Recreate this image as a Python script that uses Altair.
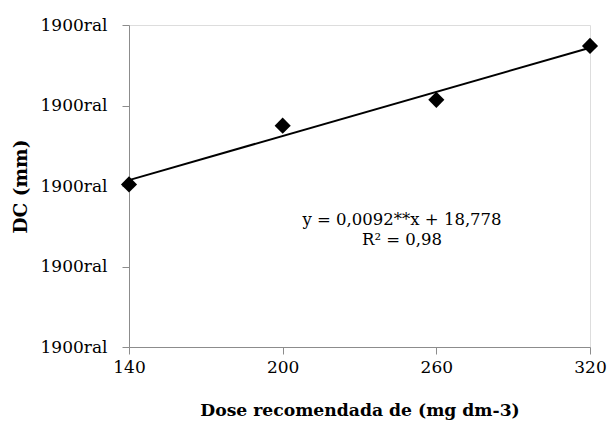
import altair as alt
import pandas as pd

dose = [140, 200, 260, 320]
dc = [20.02, 20.75, 21.07, 21.74]
y_ticks = [18, 19, 20, 21, 22]
x_ticks = [140, 200, 260, 320]
eq_lines = ["y = 0,0092**x + 18,778", "R² = 0,98"]

df = pd.DataFrame({"dose": dose, "dc": dc})
FONT = "DejaVu Serif"

x_enc = alt.X("dose:Q", scale=alt.Scale(domain=[140, 320], nice=False, zero=False),
              axis=alt.Axis(values=x_ticks, title="Dose recomendada de (mg dm-3)", grid=False,
                            domainColor="#8c8c8c", tickColor="#8c8c8c", tickSize=7, labelFlush=False,
                            labelFont=FONT, labelFontSize=17, labelColor="black", labelPadding=5,
                            titleFont=FONT, titleFontSize=17.2, titleFontWeight="bold",
                            titleColor="black", titlePadding=26))
y_enc = alt.Y("dc:Q", scale=alt.Scale(domain=[18, 22], nice=False, zero=False),
              axis=alt.Axis(values=y_ticks, labelExpr="'1900ral'", title="DC (mm)", grid=False,
                            domainColor="#8c8c8c", tickColor="#8c8c8c", tickSize=7, labelFlush=False,
                            labelFont=FONT, labelFontSize=17, labelColor="black", labelPadding=15,
                            titleFont=FONT, titleFontSize=18.5, titleFontWeight="bold",
                            titleColor="black", titlePadding=10))

base = alt.Chart(df)
points = base.mark_point(shape="diamond", filled=True, color="black", size=260, opacity=1).encode(x=x_enc, y=y_enc)
trend = base.mark_line(color="black", strokeWidth=2).encode(x=x_enc, y=y_enc).transform_regression("dose", "dc")

eq1 = alt.Chart(pd.DataFrame({"t": [eq_lines[0]]})).mark_text(
    font=FONT, fontSize=16.5, color="black", align="center", baseline="alphabetic").encode(
    text="t:N", x=alt.value(273), y=alt.value(200))
eq2 = alt.Chart(pd.DataFrame({"t": [eq_lines[1]]})).mark_text(
    font=FONT, fontSize=16.5, color="black", align="center", baseline="alphabetic").encode(
    text="t:N", x=alt.value(273), y=alt.value(220))

chart = alt.layer(trend, points, eq1, eq2).properties(
    width=461, height=322,
    autosize=alt.AutoSizeParams(type="none"),
    padding={"left": 129, "top": 25, "right": 18, "bottom": 74},
).configure_view(stroke=None).configure(background="white")

chart.save("out.html", embed_options={"renderer": "svg", "actions": False})
